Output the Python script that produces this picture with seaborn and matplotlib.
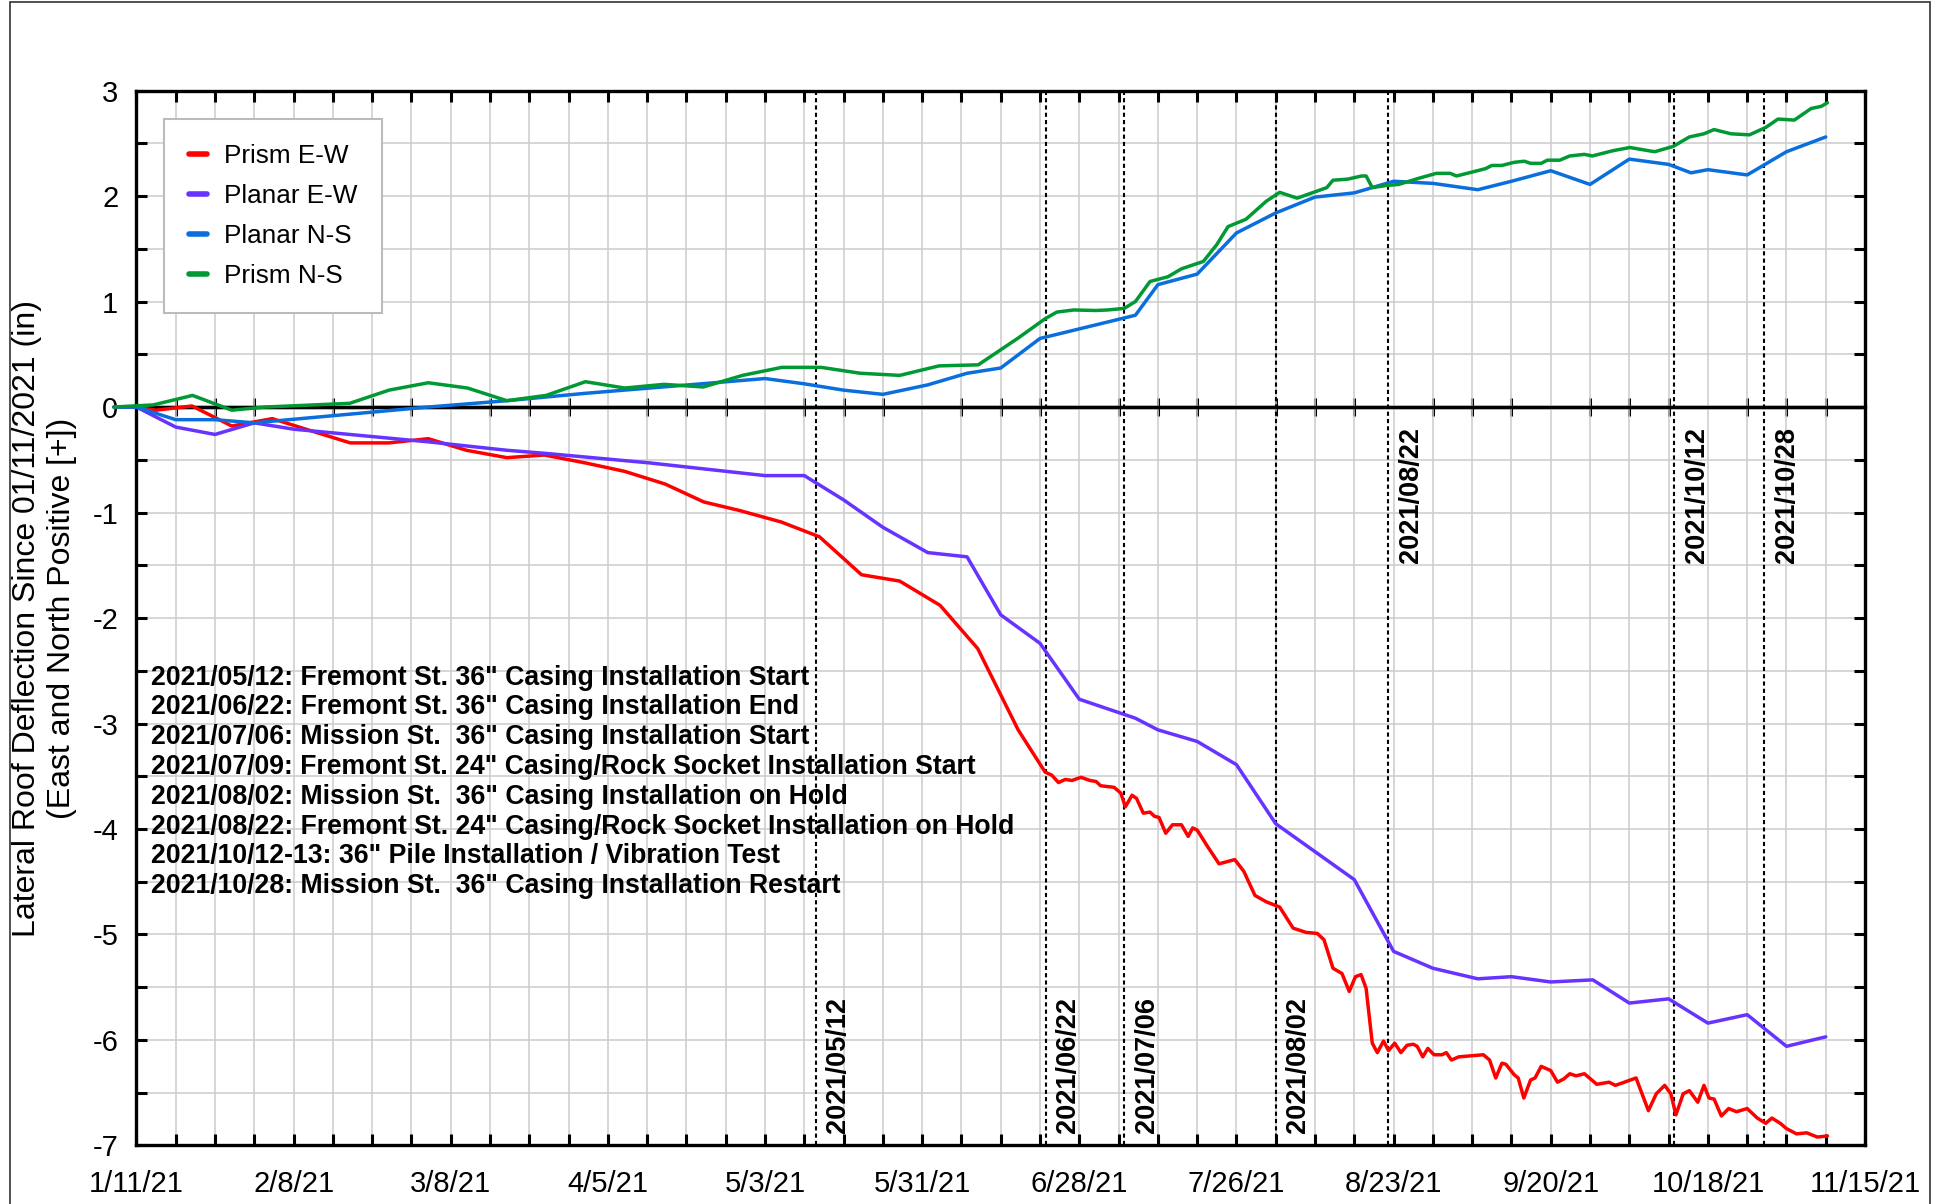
import numpy as np
import pandas as pd
import matplotlib
matplotlib.use('Agg')
import matplotlib.pyplot as plt
from matplotlib.patches import Rectangle
import seaborn as sns

START = pd.Timestamp('2021-01-11')

# days since 1/11/21 and deflection (in)
prism_ew_days = [-4, 0, 3.5, 9.9, 17.0, 24.2, 31.4, 38.1, 45.0, 52.0, 58.8, 66.0, 72.7, 80.0, 87.0,
                 94.2, 101.1, 107.4, 114.9, 121.7, 129.2, 136.0, 143.2, 149.9, 157.1, 161.9, 163.1,
                 164.3, 165.5, 166.7, 168.3, 169.9, 171.0, 171.8, 174.2, 175.4, 176.2, 177.4, 178.2,
                 179.4, 180.6, 181.4, 182.2, 183.4, 184.6, 186.2, 187.4, 188.2, 189.0, 190.9, 192.9,
                 195.7, 197.3, 199.3, 201.3, 203.7, 206.1, 208.4, 210.4, 211.6, 213.2, 214.8, 216.1,
                 217.2, 218.2, 219.1, 220.2, 221.1, 222.2, 223.1, 224.2, 225.3, 226.4, 227.5, 228.2,
                 229.2, 230.1, 231.2, 232.6, 233.4, 234.3, 235.6, 240.0, 241.1, 242.2, 243.3, 244.0,
                 245.5, 246.2, 247.2, 248.4, 249.2, 250.3, 252.0, 253.2, 254.3, 255.4, 256.5, 258.0,
                 260.2, 262.4, 263.5, 264.6, 267.2, 269.4, 270.8, 272.3, 273.4, 274.3, 275.6, 276.7,
                 278.2, 279.3, 280.2, 281.1, 282.4, 283.7, 285.1, 287.0, 288.8, 290.3, 291.4, 292.9,
                 294.0, 295.8, 297.6, 299.5, 301.3]
prism_ew_vals = [0.0, 0.0, -0.03, 0.01, -0.18, -0.11, -0.23, -0.34, -0.34, -0.30, -0.41, -0.48, -0.455,
                 -0.53, -0.61, -0.73, -0.90, -0.98, -1.09, -1.23, -1.59, -1.65, -1.88, -2.29, -3.06,
                 -3.46, -3.49, -3.56, -3.53, -3.54, -3.51, -3.54, -3.55, -3.59, -3.605, -3.66, -3.79,
                 -3.68, -3.71, -3.85, -3.84, -3.88, -3.89, -4.04, -3.96, -3.96, -4.07, -3.99, -4.01,
                 -4.17, -4.33, -4.29, -4.40, -4.63, -4.69, -4.74, -4.94, -4.98, -4.99, -5.05, -5.32,
                 -5.37, -5.54, -5.40, -5.38, -5.51, -6.03, -6.12, -6.01, -6.10, -6.03, -6.12, -6.05,
                 -6.04, -6.06, -6.16, -6.08, -6.14, -6.14, -6.12, -6.19, -6.16, -6.14, -6.19, -6.36,
                 -6.22, -6.23, -6.33, -6.36, -6.55, -6.38, -6.36, -6.25, -6.29, -6.40, -6.37, -6.32,
                 -6.34, -6.32, -6.42, -6.40, -6.43, -6.41, -6.36, -6.67, -6.51, -6.43, -6.51, -6.71,
                 -6.51, -6.48, -6.59, -6.43, -6.55, -6.56, -6.72, -6.65, -6.68, -6.65, -6.74, -6.79,
                 -6.74, -6.79, -6.84, -6.89, -6.88, -6.92, -6.91]

planar_ew_days = [-4, 0, 7, 14, 21, 28, 38, 52, 66, 73, 91.5, 100, 112, 119, 126, 133, 141, 148, 154,
                  161, 168, 178, 182, 189, 196, 203, 217, 224, 231, 239, 245, 252, 259.5, 266, 273,
                  280, 287, 294, 301]
planar_ew_vals = [0.0, 0.0, -0.19, -0.26, -0.15, -0.21, -0.26, -0.33, -0.41, -0.44, -0.53, -0.58, -0.65,
                  -0.65, -0.88, -1.14, -1.38, -1.42, -1.97, -2.24, -2.77, -2.95, -3.06, -3.17, -3.39,
                  -3.95, -4.48, -5.16, -5.32, -5.42, -5.40, -5.45, -5.43, -5.65, -5.61, -5.84, -5.76,
                  -6.06, -5.97]

planar_ns_days = [-4, 0, 7, 14, 21, 52, 66, 80, 91.5, 112, 119, 126, 133, 141, 148, 154, 161, 178, 182,
                  189, 196, 203, 210, 217, 224, 231, 239, 245, 252, 259, 266, 273, 277, 280, 287, 294,
                  301]
planar_ns_vals = [0.0, 0.0, -0.12, -0.12, -0.15, 0.0, 0.06, 0.13, 0.18, 0.27, 0.22, 0.16, 0.12, 0.21,
                  0.32, 0.37, 0.65, 0.87, 1.16, 1.26, 1.65, 1.84, 1.99, 2.03, 2.14, 2.12, 2.06, 2.14,
                  2.24, 2.11, 2.35, 2.30, 2.22, 2.25, 2.20, 2.42, 2.56]

prism_ns_days = [-4, 3, 10, 17, 23, 38, 45, 52, 59, 66, 73, 80, 87, 94, 101, 108, 115, 122, 129, 136,
                 143, 150, 157, 162, 164, 167, 171, 173, 176, 178, 180.6, 183.8, 186.2, 190.1, 192.5,
                 194.5, 197.7, 201.3, 203.7, 206.8, 210.0, 212.1, 213.2, 215.8, 218.3, 219.1, 220.2,
                 222.7, 224.9, 228.6, 231.6, 234.1, 235.2, 238.2, 240.4, 241.5, 243.3, 245.5, 247.3,
                 248.4, 250.3, 251.4, 253.6, 255.4, 258.0, 259.4, 263.1, 266.1, 268.3, 270.5, 273.8,
                 276.7, 279.3, 281.1, 284.1, 287.4, 290.3, 292.5, 295.4, 298.4, 300.2, 301.3]
prism_ns_vals = [0.0, 0.02, 0.11, -0.03, 0.0, 0.035, 0.16, 0.23, 0.18, 0.06, 0.11, 0.24, 0.18, 0.215,
                 0.19, 0.30, 0.376, 0.376, 0.32, 0.30, 0.39, 0.40, 0.65, 0.84, 0.90, 0.92, 0.915, 0.92,
                 0.935, 1.0, 1.19, 1.235, 1.31, 1.38, 1.54, 1.71, 1.78, 1.95, 2.035, 1.98, 2.04, 2.08,
                 2.15, 2.16, 2.19, 2.19, 2.08, 2.10, 2.11, 2.17, 2.215, 2.215, 2.19, 2.23, 2.26, 2.29,
                 2.29, 2.32, 2.33, 2.31, 2.31, 2.34, 2.34, 2.38, 2.395, 2.38, 2.43, 2.46, 2.44, 2.42,
                 2.47, 2.56, 2.59, 2.63, 2.59, 2.58, 2.65, 2.73, 2.72, 2.83, 2.85, 2.885]

series_names = ['Prism E-W', 'Planar E-W', 'Planar N-S', 'Prism N-S']
series_colors = ['#FF0000', '#6633FF', '#0A6FDC', '#009933']

x_tick_labels = ['1/11/21', '2/8/21', '3/8/21', '4/5/21', '5/3/21', '5/31/21', '6/28/21',
                 '7/26/21', '8/23/21', '9/20/21', '10/18/21', '11/15/21']

event_dates = ['2021/05/12', '2021/06/22', '2021/07/06', '2021/08/02',
               '2021/08/22', '2021/10/12', '2021/10/28']
event_side = ['bottom', 'bottom', 'bottom', 'bottom', 'top', 'top', 'top']

notes = [
    '2021/05/12: Fremont St. 36" Casing Installation Start',
    '2021/06/22: Fremont St. 36" Casing Installation End',
    '2021/07/06: Mission St.  36" Casing Installation Start',
    '2021/07/09: Fremont St. 24" Casing/Rock Socket Installation Start',
    '2021/08/02: Mission St.  36" Casing Installation on Hold',
    '2021/08/22: Fremont St. 24" Casing/Rock Socket Installation on Hold',
    '2021/10/12-13: 36" Pile Installation / Vibration Test',
    '2021/10/28: Mission St.  36" Casing Installation Restart',
]

frames = []
for name, days, vals in zip(series_names,
                            [prism_ew_days, planar_ew_days, planar_ns_days, prism_ns_days],
                            [prism_ew_vals, planar_ew_vals, planar_ns_vals, prism_ns_vals]):
    frames.append(pd.DataFrame({'date': START + pd.to_timedelta(days, unit='D'),
                                'value': vals, 'series': name}))
df = pd.concat(frames, ignore_index=True)

sns.set_style('white')
plt.rcParams['font.family'] = ['Liberation Sans', 'DejaVu Sans']
plt.rcParams['axes.unicode_minus'] = False
plt.rcParams['text.color'] = 'black'
plt.rcParams['axes.labelcolor'] = 'black'
plt.rcParams['xtick.color'] = 'black'
plt.rcParams['ytick.color'] = 'black'

fig = plt.figure(figsize=(19.46, 12.04), dpi=100)
ax = fig.add_axes([0.0701, 0.0486, 0.8883, 0.8762])

sns.lineplot(data=df, x='date', y='value', hue='series', hue_order=series_names,
             palette=series_colors, estimator=None, linewidth=2.5, ax=ax, zorder=3)
for ln in ax.lines:
    ln.set_clip_on(False)

tick_dates = pd.to_datetime(x_tick_labels, format='%m/%d/%y')
weekly = pd.date_range(tick_dates[0], tick_dates[-1], freq='7D')
ymin, ymax = -7, 3
ax.set_xlim(tick_dates[0], tick_dates[-1])
ax.set_ylim(ymin, ymax)
ax.set_xticks(tick_dates)
ax.set_xticklabels(x_tick_labels)
ax.set_xticks(weekly, minor=True)
ax.set_yticks(np.arange(ymin, ymax + 1, 1))
ax.set_yticklabels([str(v) for v in range(ymin, ymax + 1)])
ax.set_yticks(np.arange(ymin, ymax + 0.01, 0.5), minor=True)
ax.set_axisbelow(True)
ax.grid(True, which='both', color='#CCCCCC', lw=1.1)
ax.tick_params(which='both', direction='in', length=8, width=2.2, top=True, right=True,
               bottom=True, left=True, color='black', labelsize=21, labelcolor='black')
ax.tick_params(axis='x', pad=18)
ax.tick_params(axis='y', pad=13)
for s in ax.spines.values():
    s.set_linewidth(2.4)
    s.set_color('black')
ax.set_xlabel('')

# zero line with its own weekly ticks
ax.axhline(0, color='black', lw=2.4, zorder=2.5)
sec = ax.secondary_xaxis((0 - ymin) / (ymax - ymin))
sec.set_xticks(ax.get_xticks(minor=True))
sec.tick_params(direction='inout', length=13, width=2.2, top=True, bottom=False,
                labeltop=False, labelbottom=False, color='black')
for s in sec.spines.values():
    s.set_linewidth(2.4)
    s.set_color('black')

for d, side in zip(event_dates, event_side):
    dt = pd.to_datetime(d, format='%Y/%m/%d')
    ax.axvline(dt, color='black', ls=(0, (2, 1.5)), lw=1.5, zorder=2)
    y, va = (-6.88, 'bottom') if side == 'bottom' else (-0.19, 'top')
    ax.annotate(d, xy=(dt, y), xytext=(7, 0), textcoords='offset points', rotation=90,
                ha='left', va=va, fontsize=19.5, fontweight='bold', color='black')

for i, note in enumerate(notes):
    ax.annotate(note, xy=(0.0084, 0.4435), xycoords='axes fraction', xytext=(0, -21.45 * i),
                textcoords='offset points', ha='left', va='center', fontsize=19.2,
                fontweight='bold', color='black')

ax.set_ylabel('Lateral Roof Deflection Since 01/11/2021 (in)\n(East and North Positive [+])',
              fontsize=23, linespacing=1.2, color='black')
ax.yaxis.set_label_coords(-0.0344, 0.5)

sns.move_legend(ax, 'upper left', bbox_to_anchor=(0.0159, 0.973), title=None, frameon=True,
                fancybox=False, fontsize=18.8, handlelength=0.7, handletextpad=0.65,
                borderpad=0.95, labelspacing=0.62, borderaxespad=0, edgecolor='#BBBBBB',
                framealpha=1)
leg = ax.get_legend()
leg.get_frame().set_linewidth(1.5)
for h in leg.get_lines():
    h.set_linewidth(4)
for t in leg.get_texts():
    t.set_color('black')

fig.patches.append(Rectangle((10 / 1946, -0.01), 1920 / 1946, 1.0083, transform=fig.transFigure,
                             fill=False, edgecolor='#333333', lw=1.2))

fig.savefig('out.png', dpi=100)
